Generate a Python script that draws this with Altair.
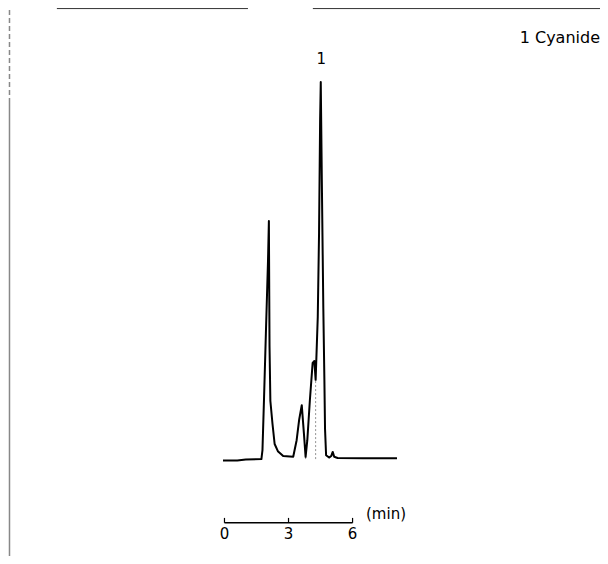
import altair as alt
import pandas as pd

# Chromatogram trace (time in min, relative response, main peak = 100)
times = [-0.07, 0.60, 1.00, 1.73, 1.78, 1.85, 1.94, 2.04, 2.08, 2.11, 2.15, 2.25, 2.35, 2.50,
         2.75, 3.22, 3.38, 3.50, 3.62, 3.72, 3.80, 3.88, 4.00, 4.13, 4.21, 4.27,
         4.37, 4.43, 4.48, 4.51, 4.56, 4.63, 4.68, 4.71, 4.76, 4.90, 5.00, 5.07, 5.14, 5.30,
         6.50, 8.08]
signal = [-0.4, -0.4, -0.1, 0.0, 2.4, 15.6, 33.4, 52.8, 63.1, 30.0, 15.4, 9.3, 4.0, 2.1,
          0.8, 0.6, 5.0, 10.5, 14.3, 6.9, 0.6, 5.0, 15.6, 25.5, 26.0, 21.0,
          37.7, 60.0, 90.0, 100.0, 74.0, 40.0, 21.0, 8.0, 1.0, 0.4, 0.8, 1.9, 0.6, 0.3,
          0.2, 0.2]

peak_labels = ["1"]
peak_times = [4.53]
peak_heights = [104.8]

legend_text = ["1 Cyanide"]

scale_ticks = [0, 3, 6]
scale_tick_labels = ["0", "3", "6"]
scale_unit = "(min)"

drop_times = [3.80, 4.27]
drop_heights = [0.6, 21.0]

X_DOM = [-10.14, 17.59]
Y_DOM = [-25.7, 119.6]
FONT = "DejaVu Sans"

xs = alt.Scale(domain=X_DOM, nice=False, zero=False)
ys = alt.Scale(domain=Y_DOM, nice=False, zero=False)


def X(f):
    return alt.X(f, scale=xs, axis=None)


def Y(f):
    return alt.Y(f, scale=ys, axis=None)


trace = pd.DataFrame({"t": times, "s": signal})
line = alt.Chart(trace).mark_line(color="black", strokeWidth=2, strokeJoin="round").encode(
    x=X("t:Q"), y=Y("s:Q")
)

drops = pd.DataFrame({"t": drop_times, "h": drop_heights, "z": [0.0] * len(drop_times)})
drop_lines = alt.Chart(drops).mark_rule(color="#777777", strokeWidth=0.8, strokeDash=[2, 2]).encode(
    x=X("t:Q"), y=Y("z:Q"), y2="h:Q"
)

pk = pd.DataFrame({"t": peak_times, "h": peak_heights, "lab": peak_labels})
peak_text = alt.Chart(pk).mark_text(font=FONT, fontSize=15, color="black",
                                    baseline="alphabetic").encode(
    x=X("t:Q"), y=Y("h:Q"), text="lab:N"
)

# scale bar (time axis drawn as a bar under the trace)
bar_df = pd.DataFrame({"a": [scale_ticks[0]], "b": [scale_ticks[-1]], "y": [-16.9]})
bar = alt.Chart(bar_df).mark_rule(color="black", strokeWidth=1.4).encode(
    x=X("a:Q"), x2="b:Q", y=Y("y:Q")
)
ticks_df = pd.DataFrame({"t": scale_ticks, "lab": scale_tick_labels,
                         "y0": [-16.9] * 3, "y1": [-15.6] * 3, "yl": [-21.2] * 3})
ticks = alt.Chart(ticks_df).mark_rule(color="black", strokeWidth=1.2).encode(
    x=X("t:Q"), y=Y("y0:Q"), y2="y1:Q"
)
tick_text = alt.Chart(ticks_df).mark_text(font=FONT, fontSize=15, color="black",
                                          baseline="alphabetic").encode(
    x=X("t:Q"), y=Y("yl:Q"), text="lab:N"
)
unit_df = pd.DataFrame({"t": [6.63], "y": [-14.6], "lab": [scale_unit]})
unit_text = alt.Chart(unit_df).mark_text(font=FONT, fontSize=15, color="black", align="left",
                                         baseline="middle").encode(
    x=X("t:Q"), y=Y("y:Q"), text="lab:N"
)

leg_df = pd.DataFrame({"t": [17.59], "y": [110.4], "lab": legend_text})
legend = alt.Chart(leg_df).mark_text(
    font=FONT, fontSize=16, color="black", align="right", baseline="alphabetic"
).encode(x=X("t:Q"), y=Y("y:Q"), text="lab:N")

# scanned frame edges (in chart units)
frame_h = pd.DataFrame({"a": [-7.85, 4.14], "b": [1.10, 17.59], "y": [119.45, 119.45]})
frame_top = alt.Chart(frame_h).mark_rule(color="#333333", strokeWidth=1).encode(
    x=X("a:Q"), x2="b:Q", y=Y("y:Q")
)
frame_dash = pd.DataFrame({"t": [-10.07], "y0": [119.1], "y1": [95.2]})
frame_left_dash = alt.Chart(frame_dash).mark_rule(color="#888888", strokeWidth=1.5,
                                                  strokeDash=[5, 3]).encode(
    x=X("t:Q"), y=Y("y0:Q"), y2="y1:Q"
)
frame_solid = pd.DataFrame({"t": [-10.07], "y0": [95.2], "y1": [-25.7]})
frame_left_solid = alt.Chart(frame_solid).mark_rule(color="#888888", strokeWidth=1.5).encode(
    x=X("t:Q"), y=Y("y0:Q"), y2="y1:Q"
)

chart = alt.layer(
    frame_top, frame_left_dash, frame_left_solid,
    drop_lines, line, peak_text, bar, ticks, tick_text, unit_text, legend
).properties(
    width=592, height=548, padding=0, background="white",
    autosize=alt.AutoSizeParams(type="none")
).configure_view(stroke=None)

chart.save("out.html", embed_options={"renderer": "svg", "actions": False})
